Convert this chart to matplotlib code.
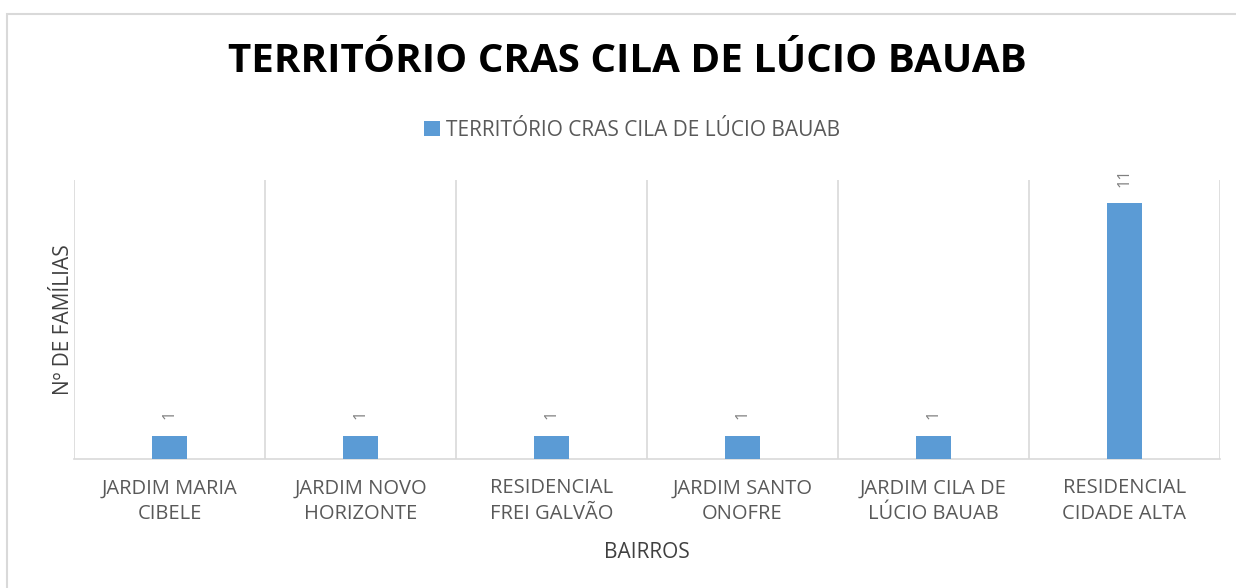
import matplotlib.pyplot as plt
import numpy as np

bairros = ['JARDIM MARIA\nCIBELE', 'JARDIM NOVO\nHORIZONTE', 'RESIDENCIAL\nFREI GALVÃO',
           'JARDIM SANTO\nONOFRE', 'JARDIM CILA DE\nLÚCIO BAUAB', 'RESIDENCIAL\nCIDADE ALTA']
familias = [1, 1, 1, 1, 1, 11]
serie = 'TERRITÓRIO CRAS CILA DE LÚCIO BAUAB'

plt.rcParams['font.family'] = ['Open Sans', 'DejaVu Sans']

fig = plt.figure(figsize=(12.36, 5.88), dpi=100)
# outer chart border
fig.patches.append(plt.Rectangle((7 / 1236, -0.01), 1.02, 1 - 14 / 588 + 0.01,
                                 transform=fig.transFigure, fill=False,
                                 edgecolor='#D9D9D9', linewidth=1.5))

ax = fig.add_axes([74 / 1236, 1 - 459 / 588, (1220 - 74) / 1236, (459 - 180) / 588])
x = np.arange(len(bairros))
bars = ax.bar(x, familias, width=0.185, color='#5B9BD5', label=serie, zorder=3)

for xi, v in zip(x, familias):
    ax.annotate(str(v), (xi, v), xytext=(0, 12), textcoords='offset points',
                rotation=90, ha='center', va='bottom', color='#7F7F7F', fontsize=12)

ax.set_xlim(-0.5, len(bairros) - 0.5)
ax.set_ylim(0, 12)
ax.set_yticks([])
ax.set_xticks(x)
ax.set_xticklabels(bairros, color='#595959', fontsize=14.5, linespacing=1.35)
ax.tick_params(axis='x', length=0, pad=14)
for b in np.arange(-0.5, len(bairros), 1.0):
    ax.axvline(b, color='#D9D9D9', linewidth=1.2, zorder=1)
for s in ['top', 'right', 'left']:
    ax.spines[s].set_visible(False)
ax.spines['bottom'].set_color('#D9D9D9')
ax.spines['bottom'].set_linewidth(1.2)

ax.set_xlabel('BAIRROS', color='#404040', fontsize=15, labelpad=13)
ax.set_ylabel('Nº DE FAMÍLIAS', color='#404040', fontsize=15, labelpad=0)

fig.text(627 / 1236, 1 - 62 / 588, 'TERRITÓRIO CRAS CILA DE LÚCIO BAUAB', ha='center', va='center',
         fontsize=29, fontweight='bold', color='black')
fig.legend(loc='center', bbox_to_anchor=(632 / 1236, 1 - 130 / 588), frameon=False,
           fontsize=15, handlelength=0.75, handleheight=0.75, handletextpad=0.3,
           labelcolor='#595959')

fig.savefig('out.png', dpi=100)
